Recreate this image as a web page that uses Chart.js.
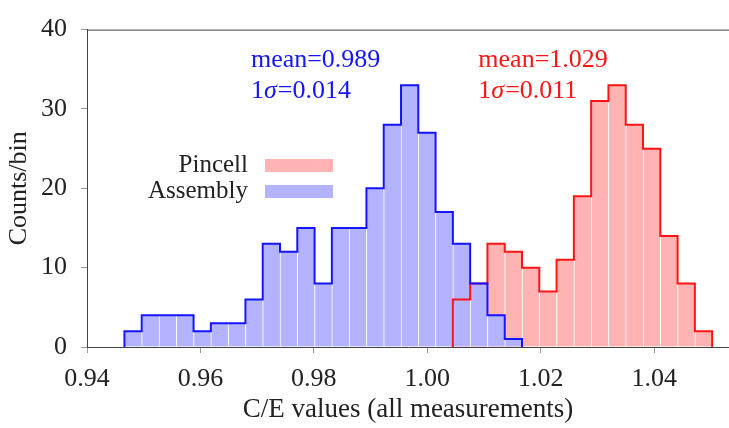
<!DOCTYPE html>
<html>
<head>
<meta charset="utf-8">
<script src="https://cdn.jsdelivr.net/npm/chart.js@4.4.1/dist/chart.umd.min.js"></script>
<style>
  html, body { margin: 0; padding: 0; background: #fff; }
  #wrap { width: 729px; height: 428px; }
</style>
</head>
<body>
<div id="wrap"><canvas id="ceChart"></canvas></div>
<script>
// common binning of both histograms
const binStart = 0.9466;
const binWidth = 0.003048;

const assemblyFirstBin = 0;
const assemblyCounts = [2, 4, 4, 4, 2, 3, 3, 6, 13, 12, 15, 8, 15, 15, 20, 28, 33, 27, 17, 13, 8, 4, 1];
const pincellFirstBin = 19;
const pincellCounts = [6, 8, 13, 12, 10, 7, 11, 19, 31, 33, 28, 25, 14, 8, 2];

const xTicks = [0.94, 0.96, 0.98, 1.00, 1.02, 1.04];
const yTicks = [0, 10, 20, 30, 40];

const assemblyStats = ["mean=0.989", "0.014"];
const pincellStats = ["mean=1.029", "0.011"];
const legendLabels = ["Pincell", "Assembly"];

const BLUE = "rgb(20,20,255)";
const RED = "rgb(255,20,20)";
const BLUE_FILL = "#b3b3ff";
const RED_FILL = "#ffb3b3";
const SERIF = "'Liberation Serif', 'DejaVu Serif', serif";

function binBars(counts, firstBin) {
  return counts.map((c, i) => ({ x: binStart + (firstBin + i + 0.5) * binWidth, y: c }));
}

function stepOutline(counts, firstBin) {
  const left = binStart + firstBin * binWidth;
  const pts = [{ x: left, y: 0 }];
  counts.forEach((c, i) => pts.push({ x: binStart + (firstBin + i) * binWidth, y: c }));
  pts.push({ x: binStart + (firstBin + counts.length) * binWidth, y: 0 });
  return pts;
}

function drawSigmaLine(ctx, x, y, value) {
  ctx.font = `26px ${SERIF}`;
  ctx.fillText("1", x, y);
  let cx = x + ctx.measureText("1").width;
  ctx.font = `italic 26px ${SERIF}`;
  ctx.fillText("σ", cx, y);
  cx += ctx.measureText("σ").width + 1;
  ctx.font = `26px ${SERIF}`;
  ctx.fillText("=" + value, cx, y);
}

const overlay = {
  id: "overlay",
  afterDraw(chart) {
    const { ctx, chartArea, scales } = chart;
    const xs = scales.x, ys = scales.y;
    ctx.save();
    // top frame line
    ctx.strokeStyle = "#444";
    ctx.lineWidth = 1;
    ctx.beginPath();
    ctx.moveTo(chartArea.left, chartArea.top + 0.5);
    ctx.lineTo(chartArea.right, chartArea.top + 0.5);
    ctx.stroke();

    // stats
    ctx.textAlign = "left";
    ctx.textBaseline = "alphabetic";
    [[assemblyStats, BLUE, 0.9689], [pincellStats, RED, 1.0090]].forEach(([stats, color, xv]) => {
      ctx.fillStyle = color;
      ctx.font = `26px ${SERIF}`;
      ctx.fillText(stats[0], xs.getPixelForValue(xv), ys.getPixelForValue(35.3));
      drawSigmaLine(ctx, xs.getPixelForValue(xv), ys.getPixelForValue(31.35), stats[1]);
    });

    // legend
    const fills = [RED_FILL, BLUE_FILL];
    legendLabels.forEach((label, i) => {
      const cy = 165 + i * 26;
      ctx.fillStyle = "#222";
      ctx.font = `25px ${SERIF}`;
      ctx.textAlign = "right";
      ctx.textBaseline = "middle";
      ctx.fillText(label, 248, cy);
      ctx.fillStyle = fills[i];
      ctx.fillRect(265, cy - 6, 68, 13);
    });
    ctx.restore();
  },
};

const barStyle = {
  grouped: false,
  barPercentage: 1,
  categoryPercentage: 1,
  borderWidth: { left: 1, right: 0, top: 0, bottom: 0 },
  borderColor: "rgba(255,255,255,0.8)",
};

new Chart(document.getElementById("ceChart"), {
  data: {
    datasets: [
      { type: "bar", label: "Pincell", data: binBars(pincellCounts, pincellFirstBin), backgroundColor: RED_FILL, order: 4, ...barStyle },
      { type: "bar", label: "Assembly", data: binBars(assemblyCounts, assemblyFirstBin), backgroundColor: BLUE_FILL, order: 3, ...barStyle },
      { type: "line", label: "Pincell outline", data: stepOutline(pincellCounts, pincellFirstBin), stepped: true, borderColor: RED, borderWidth: 2, pointRadius: 0, fill: false, order: 2 },
      { type: "line", label: "Assembly outline", data: stepOutline(assemblyCounts, assemblyFirstBin), stepped: true, borderColor: BLUE, borderWidth: 2, pointRadius: 0, fill: false, order: 1 },
    ],
  },
  options: {
    responsive: true,
    maintainAspectRatio: false,
    animation: false,
    layout: { padding: { top: 24, right: 0, left: 0, bottom: 0 } },
    plugins: { legend: { display: false }, tooltip: { enabled: false } },
    scales: {
      x: {
        type: "linear",
        offset: false,
        min: 0.94,
        max: 1.0532,
        afterBuildTicks: (scale) => { scale.ticks = xTicks.map((v) => ({ value: v })); },
        afterFit: (scale) => { scale.height = 81; },
        ticks: {
          color: "#222",
          font: { family: SERIF, size: 26 },
          padding: 11,
          maxRotation: 0,
          callback: (v) => Number(v).toFixed(2),
        },
        grid: { offset: false, drawOnChartArea: false, drawTicks: true, tickLength: 6, color: "#999" },
        border: { display: true, color: "#444", width: 1 },
        title: { display: true, text: "C/E values (all measurements)", color: "#222", font: { family: SERIF, size: 27 }, padding: { top: 0, bottom: 2 } },
      },
      y: {
        min: 0,
        max: 40,
        afterBuildTicks: (scale) => { scale.ticks = yTicks.map((v) => ({ value: v })); },
        afterFit: (scale) => { scale.width = 87; },
        ticks: { color: "#222", font: { family: SERIF, size: 26 }, padding: 14 },
        grid: { drawOnChartArea: false, drawTicks: true, tickLength: 6, color: "#999" },
        border: { display: true, color: "#444", width: 1 },
        title: { display: true, text: "Counts/bin", color: "#222", font: { family: SERIF, size: 26 }, padding: { top: 4, bottom: 0 } },
      },
    },
  },
  plugins: [overlay],
});
</script>
</body>
</html>
